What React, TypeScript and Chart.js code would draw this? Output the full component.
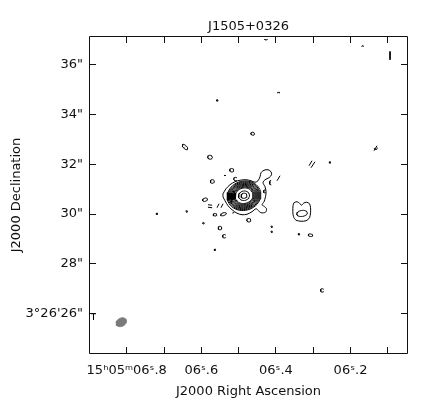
import React, { useEffect, useRef } from 'react';
import { Chart, registerables } from 'chart.js';

Chart.register(...registerables);

// ---------- text ----------
const TITLE = 'J1505+0326';
const X_TITLE = 'J2000 Right Ascension';
const Y_TITLE = 'J2000 Declination';
const FONT = 'DejaVu Sans';

// ---------- axes (RA in seconds of 15h05m, Dec in arcsec of +3°26') ----------
const RA_MIN = 6.0459;
const RA_MAX = 6.9011;
const DEC_MIN = 24.379;
const DEC_MAX = 37.15;
const RA_TICKS = [6.1, 6.2, 6.3, 6.4, 6.5, 6.6, 6.7, 6.8];
const RA_LABEL_TICKS = [6.8, 6.6, 6.4, 6.2];
const RA_TICK_LABELS = ['15ʰ05ᵐ06ˢ.8', '06ˢ.6', '06ˢ.4', '06ˢ.2'];
const DEC_TICKS = [26, 28, 30, 32, 34, 36];
const DEC_TICK_LABELS = ['3°26\'26"', '28"', '30"', '32"', '34"', '36"'];
const ARCSEC_PER_SEC = 14.973; // 15 * cos(dec)

// ---------- contours ----------
// outer contour of the core [ra, dec]
const CORE_OUTER = [
  [6.5418, 30.815], [6.5338, 31.016], [6.5231, 31.177], [6.5097, 31.297], [6.4962, 31.357],
  [6.4802, 31.378], [6.4668, 31.337], [6.456, 31.277], [6.448, 31.337], [6.4426, 31.498],
  [6.4399, 31.659], [6.4319, 31.759], [6.4212, 31.779], [6.4131, 31.699], [6.4118, 31.578],
  [6.4185, 31.458], [6.4292, 31.378], [6.4346, 31.257], [6.4292, 31.096], [6.4265, 30.896],
  [6.4279, 30.695], [6.4319, 30.494], [6.4373, 30.373], [6.4319, 30.313], [6.4252, 30.213],
  [6.4279, 30.072], [6.4399, 30.052], [6.448, 30.153], [6.4534, 30.213], [6.4641, 30.092],
  [6.4775, 29.992], [6.4909, 29.972], [6.5043, 30.032], [6.5177, 30.173], [6.5284, 30.333],
  [6.5365, 30.534], [6.5418, 30.695],
];
// nested core contour levels (centre, semi-axes in arcsec, position angle)
const CORE_RA = 6.4855;
const CORE_DEC = 30.735;
const CORE_PA = 15;
const CORE_LEVEL_A = [0.683, 0.643, 0.602, 0.562, 0.522, 0.482, 0.442, 0.402, 0.361, 0.221, 0.12];
const CORE_LEVEL_B = [0.587, 0.553, 0.518, 0.483, 0.449, 0.415, 0.38, 0.346, 0.31, 0.19, 0.103];

// secondary component to the south-west
const COMP_OUTER = [
  [6.3542, 30.333], [6.3515, 30.454], [6.3434, 30.494], [6.3367, 30.434], [6.3314, 30.353],
  [6.326, 30.434], [6.318, 30.474], [6.3099, 30.414], [6.3072, 30.253], [6.3072, 30.052],
  [6.3099, 29.851], [6.3193, 29.731], [6.3327, 29.711], [6.3461, 29.751], [6.3528, 29.892],
  [6.3547, 30.092],
];
const COMP_INNER = [6.33, 30.024, 0.213, 0.12, 10];

// small closed noise contours [ra, dec, a", b", pa]
const BLOBS = [
  [6.6437, 32.691, 0.14, 0.064, -45],
  [6.5767, 32.281, 0.092, 0.08, 0],
  [6.4622, 33.225, 0.072, 0.06, 0],
  [6.5185, 31.759, 0.08, 0.072, 0],
  [6.5705, 31.309, 0.08, 0.072, 0],
  [6.5901, 30.574, 0.1, 0.064, 20],
  [6.5633, 29.972, 0.072, 0.052, 0],
  [6.5405, 29.992, 0.12, 0.052, 20],
  [6.5499, 29.438, 0.072, 0.072, 45],
  [6.4727, 29.751, 0.08, 0.072, 0],
  [6.3072, 29.149, 0.092, 0.052, -10],
];
// tiny dot-like contours [ra, dec]
const DOTS = [
  [6.5571, 34.562], [6.3381, 29.189], [6.5941, 29.631], [6.6391, 30.104],
  [6.5633, 28.566], [6.255, 32.072], [6.4113, 29.49], [6.4113, 29.289], [6.7188, 30.012],
];
// open arcs [ra, dec, r", startDeg, endDeg]
const ARCS = [
  [6.5083, 31.406, 0.07, 40, 320],
  [6.5383, 29.108, 0.07, 40, 320],
  [6.2756, 26.932, 0.07, 40, 320],
  [6.4292, 30.908, 0.06, 60, 300],
  [6.4265, 37.05, 0.06, 200, 340],
  [6.3925, 34.84, 0.05, 20, 160],
  [6.1673, 36.72, 0.04, 20, 160],
  [6.4105, 31.257, 0.1, 110, 250],
  [6.1324, 32.651, 0.06, 200, 380],
];
// short strokes [ra1, dec1, ra2, dec2]
const STROKES = [
  [6.0941, 36.53, 6.0941, 36.197],
  [6.5392, 31.55, 6.5338, 31.55],
  [6.5169, 30.04, 6.5115, 30.06],
  [6.5579, 30.253, 6.5525, 30.414],
  [6.5472, 30.253, 6.5418, 30.414],
  [6.582, 30.373, 6.571, 30.353],
  [6.582, 30.273, 6.571, 30.253],
  [6.397, 31.337, 6.389, 31.538],
  [6.3059, 31.859, 6.2952, 32.1],
  [6.3113, 31.94, 6.3032, 32.14],
  [6.137, 32.542, 6.129, 32.743],
  [6.8957, 25.996, 6.8823, 25.996],
  [6.889, 25.996, 6.889, 25.755],
];
// restoring beam [ra, dec, a", b", pa]
const BEAM = [6.8145, 25.655, 0.22, 0.16, 30];

type P = { x: number; y: number };

function ellipse(ra: number, dec: number, a: number, b: number, pa: number, start = 0, end = 360, n = 48): P[] {
  const pts: P[] = [];
  const th = (pa * Math.PI) / 180;
  for (let i = 0; i <= n; i++) {
    const t = ((start + ((end - start) * i) / n) * Math.PI) / 180;
    const ex = a * Math.cos(t);
    const ey = b * Math.sin(t);
    const dx = ex * Math.cos(th) - ey * Math.sin(th);
    const dy = ex * Math.sin(th) + ey * Math.cos(th);
    pts.push({ x: ra - dx / ARCSEC_PER_SEC, y: dec + dy });
  }
  return pts;
}

function closed(list: number[][]): P[] {
  const pts = list.map(([x, y]) => ({ x, y }));
  pts.push({ ...pts[0] });
  return pts;
}

const frameAndTicks = {
  id: 'frameAndTicks',
  afterDraw(chart: any) {
    const { ctx, chartArea } = chart;
    const { left, right, top, bottom } = chartArea;
    const xs = chart.scales.x;
    const ys = chart.scales.y;
    const L = 7;
    ctx.save();
    ctx.strokeStyle = '#111';
    ctx.lineWidth = 1;
    ctx.beginPath();
    ctx.rect(left + 0.5, top + 0.5, right - left - 1, bottom - top - 1);
    RA_TICKS.forEach((v) => {
      const px = Math.floor(xs.getPixelForValue(v)) + 0.5;
      ctx.moveTo(px, bottom);
      ctx.lineTo(px, bottom - L);
      ctx.moveTo(px, top);
      ctx.lineTo(px, top + L);
    });
    DEC_TICKS.forEach((v) => {
      const py = Math.floor(ys.getPixelForValue(v)) + 0.5;
      ctx.moveTo(left, py);
      ctx.lineTo(left + L, py);
      ctx.moveTo(right, py);
      ctx.lineTo(right - L, py);
    });
    ctx.stroke();
    // RA tick labels
    ctx.fillStyle = '#111';
    ctx.font = `13px "${FONT}"`;
    ctx.textAlign = 'center';
    ctx.textBaseline = 'middle';
    RA_LABEL_TICKS.forEach((v, i) => {
      ctx.fillText(RA_TICK_LABELS[i], xs.getPixelForValue(v), bottom + 17);
    });
    ctx.restore();
  },
};

export default function App() {
  const ref = useRef<HTMLCanvasElement | null>(null);

  useEffect(() => {
    if (!ref.current) return;
    Chart.defaults.font.family = FONT;

    const line = (pts: P[], tension = 0) => ({
      data: pts,
      showLine: true,
      borderColor: '#000',
      borderWidth: 1,
      pointRadius: 0,
      fill: false,
      tension,
    });

    const datasets: any[] = [];
    datasets.push(line(closed(CORE_OUTER), 0.3));
    CORE_LEVEL_A.forEach((a, i) => datasets.push(line(ellipse(CORE_RA, CORE_DEC, a, CORE_LEVEL_B[i], CORE_PA))));
    datasets.push(line(closed(COMP_OUTER), 0.3));
    datasets.push(line(ellipse(COMP_INNER[0], COMP_INNER[1], COMP_INNER[2], COMP_INNER[3], COMP_INNER[4])));
    BLOBS.forEach(([ra, dec, a, b, pa]) => datasets.push(line(ellipse(ra, dec, a, b, pa, 0, 360, 24))));
    DOTS.forEach(([ra, dec]) => datasets.push(line(ellipse(ra, dec, 0.03, 0.03, 0, 0, 360, 12))));
    ARCS.forEach(([ra, dec, r, s, e]) => datasets.push(line(ellipse(ra, dec, r, r, 0, s, e, 16))));
    STROKES.forEach(([x1, y1, x2, y2]) => datasets.push(line([{ x: x1, y: y1 }, { x: x2, y: y2 }])));
    datasets.push({
      data: ellipse(BEAM[0], BEAM[1], BEAM[2], BEAM[3], BEAM[4]),
      showLine: true,
      borderColor: '#7a7a7a',
      backgroundColor: '#7a7a7a',
      borderWidth: 1,
      pointRadius: 0,
      fill: 'shape',
    });

    const textFont = { family: FONT, size: 13, weight: 'normal' as const };

    const chart = new Chart(ref.current, {
      type: 'scatter',
      data: { datasets },
      plugins: [frameAndTicks],
      options: {
        animation: false,
        responsive: false,
        events: [],
        layout: { padding: { left: 0, right: 20, top: 0, bottom: 0 } },
        plugins: {
          legend: { display: false },
          tooltip: { enabled: false },
          title: {
            display: true,
            fullSize: false,
            text: TITLE,
            color: '#111',
            font: textFont,
            padding: { top: 18.4, bottom: 2 },
          },
        },
        scales: {
          x: {
            type: 'linear',
            reverse: true,
            min: RA_MIN,
            max: RA_MAX,
            grid: { display: false, drawTicks: false },
            border: { display: false },
            afterBuildTicks: (s: any) => {
              s.ticks = RA_LABEL_TICKS.map((v) => ({ value: v }));
            },
            afterFit: (s: any) => {
              s.height = 55;
            },
            ticks: { display: false },
            title: {
              display: true,
              text: X_TITLE,
              color: '#111',
              font: textFont,
              padding: { top: 0, bottom: 9.5 },
            },
          },
          y: {
            type: 'linear',
            min: DEC_MIN,
            max: DEC_MAX,
            grid: { display: false, drawTicks: false },
            border: { display: false },
            afterBuildTicks: (s: any) => {
              s.ticks = DEC_TICKS.map((v) => ({ value: v }));
            },
            afterFit: (s: any) => {
              s.width = 89;
            },
            ticks: {
              autoSkip: false,
              padding: 6,
              color: '#111',
              font: textFont,
              callback: (_v: any, i: number) => DEC_TICK_LABELS[i],
            },
            title: {
              display: true,
              text: Y_TITLE,
              color: '#111',
              font: textFont,
              padding: { top: 8.9, bottom: 0 },
            },
          },
        },
      } as any,
    });
    return () => chart.destroy();
  }, []);

  return (
    <div style={{ position: 'absolute', left: 0, top: 0, width: 428, height: 409, background: '#fff' }}>
      <canvas ref={ref} width={428} height={409} style={{ display: 'block' }} />
    </div>
  );
}
